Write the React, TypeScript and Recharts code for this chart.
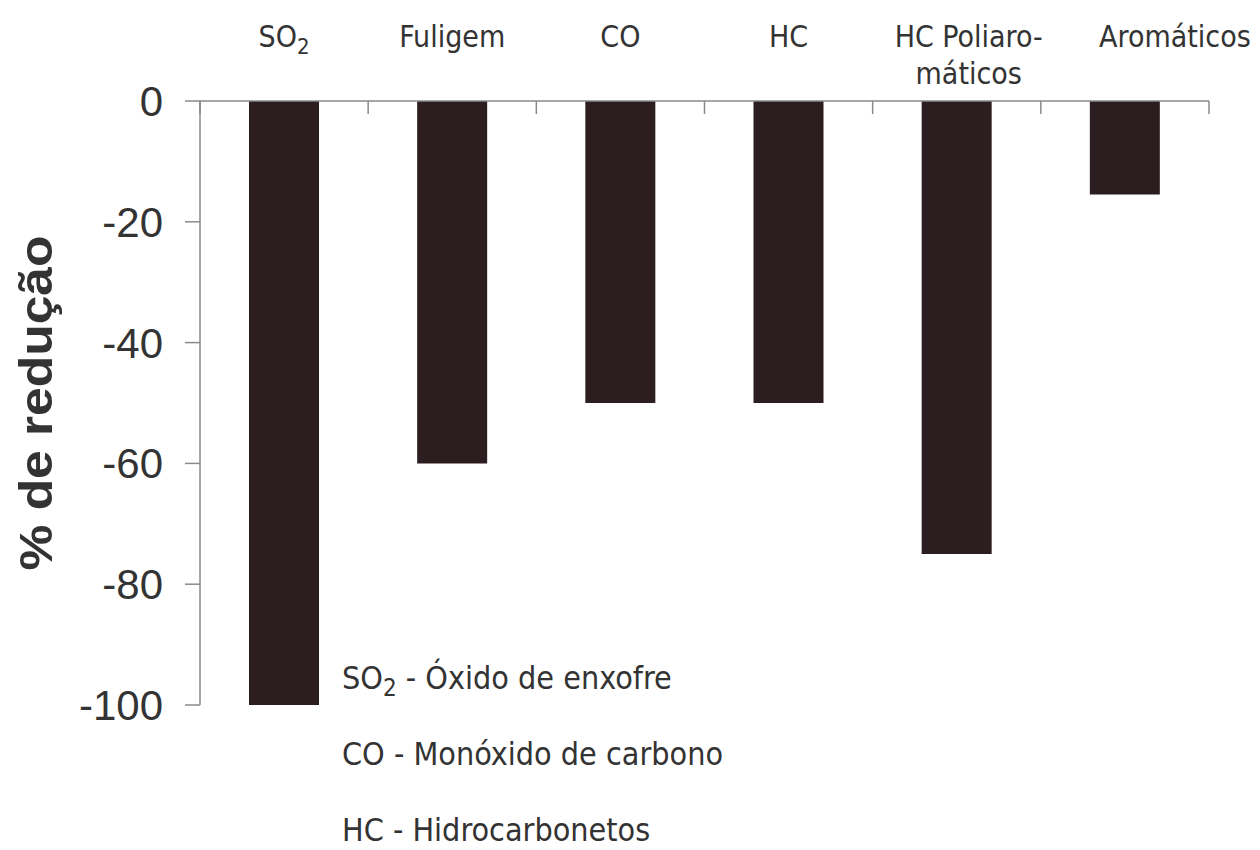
import React from 'react';
import { BarChart, Bar, XAxis, YAxis } from 'recharts';

// categories as printed on the top axis (\n = line break, _2 = subscript 2)
const categories: string[] = ['SO_2', 'Fuligem', 'CO', 'HC', 'HC Poliaro-\nmáticos', 'Aromáticos'];
// % de redução per category
const reductions: number[] = [-100, -60, -50, -50, -75, -15.5];
const yTicks: number[] = [0, -20, -40, -60, -80, -100];
const boundaryTicks: number[] = [0, 1, 2, 3, 4, 5, 6];
const notes: string[] = ['SO_2 - Óxido de enxofre', 'CO - Monóxido de carbono', 'HC - Hidrocarbonetos'];

const data = categories.map((name, i) => ({ name, value: reductions[i], pos: i + 0.5 }));

const TEXT = '#333';
const AXIS = '#8a8a8a';
const BAR = '#2b1d20';
const CAT_FONT = '"DejaVu Sans Condensed", "DejaVu Sans", sans-serif';

const CategoryTick = (props: any) => {
  const { x, payload, index } = props;
  const lines = String(payload.value).split('\n');
  // last label sits a bit to the right in the original
  const dx = index === categories.length - 1 ? 50 : index === 4 ? 12 : 0;
  return (
    <text
      x={x + dx}
      y={47}
      textAnchor="middle"
      fill={TEXT}
      fontSize={30}
      fontFamily={CAT_FONT}
    >
      {lines.map((l, i) => {
        if (l.includes('_')) {
          const [a, b] = l.split('_');
          return (
            <tspan key={i} x={x + dx} dy={0}>
              {a}
              <tspan fontSize={22} dy={7}>{b}</tspan>
            </tspan>
          );
        }
        return (
          <tspan key={i} x={x + dx} dy={i === 0 ? 0 : 37}>
            {l}
          </tspan>
        );
      })}
    </text>
  );
};

const YLabel = (props: any) => {
  const { viewBox } = props;
  const cy = viewBox.y + viewBox.height / 2;
  return (
    <text
      x={36}
      y={cy}
      transform={`rotate(-90, 36, ${cy})`}
      textAnchor="middle"
      dominantBaseline="central"
      fill={TEXT}
      fontSize={46}
      fontWeight="bold"
      textLength={335}
      lengthAdjust="spacingAndGlyphs"
      fontFamily='"Liberation Sans", Arial, sans-serif'
    >
      % de redução
    </text>
  );
};

const NoTick = () => <g />;

const Note = ({ text }: { text: string }) => {
  if (!text.includes('_')) return <>{text}</>;
  const [a, rest] = text.split('_');
  return (
    <>
      {a}
      <span style={{ fontSize: 24, position: 'relative', top: 7 }}>{rest.charAt(0)}</span>
      {rest.slice(1)}
    </>
  );
};

export default function App() {
  return (
    <div style={{ position: 'absolute', left: 0, top: 0, width: 1260, height: 850, background: '#fff' }}>
      <BarChart
        width={1260}
        height={850}
        data={data}
        margin={{ top: 0, right: 51, bottom: 145, left: 0 }}
        barSize={70}
      >
        <XAxis
          xAxisId="cat"
          dataKey="name"
          orientation="top"
          height={101}
          axisLine={{ stroke: AXIS, strokeWidth: 1.5 }}
          tickLine={false}
          tick={<CategoryTick />}
          interval={0}
        />
        <XAxis
          xAxisId="grid"
          type="number"
          dataKey="pos"
          orientation="top"
          domain={[0, 6]}
          ticks={boundaryTicks}
          interval={0}
          height={1}
          mirror
          tickSize={13}
          tick={<NoTick />}
          axisLine={false}
          tickLine={{ stroke: AXIS, strokeWidth: 1.5 }}
        />
        <YAxis
          type="number"
          domain={[-100, 0]}
          ticks={yTicks}
          width={200}
          tickSize={15}
          tickMargin={22}
          axisLine={{ stroke: AXIS, strokeWidth: 1.5 }}
          tickLine={{ stroke: AXIS, strokeWidth: 1.5 }}
          tick={{ fill: TEXT, fontSize: 42, fontFamily: '"Liberation Sans", Arial, sans-serif' }}
          label={{ content: <YLabel /> }}
        />
        <Bar xAxisId="cat" dataKey="value" fill={BAR} isAnimationActive={false} />
      </BarChart>
      {notes.map((n, i) => (
        <div
          key={n}
          style={{
            position: 'absolute',
            left: 342,
            top: 657 + i * 76,
            height: 42,
            lineHeight: '42px',
            fontFamily: CAT_FONT,
            fontSize: 32,
            color: TEXT,
            whiteSpace: 'nowrap',
          }}
        >
          <Note text={n} />
        </div>
      ))}
    </div>
  );
}
